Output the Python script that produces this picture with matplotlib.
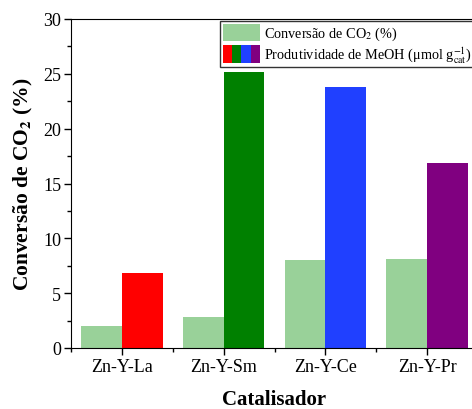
import matplotlib.pyplot as plt
from matplotlib.patches import Patch
from matplotlib.legend_handler import HandlerTuple
from matplotlib.ticker import AutoMinorLocator, MultipleLocator
import numpy as np

plt.rcParams['font.family'] = ['Liberation Serif', 'DejaVu Serif']
plt.rcParams['mathtext.fontset'] = 'stix'

catalysts = ['Zn-Y-La', 'Zn-Y-Sm', 'Zn-Y-Ce', 'Zn-Y-Pr']
conversion = [2.0, 2.8, 8.0, 8.1]
productivity = [6.8, 25.2, 23.8, 16.9]
prod_colors = ['#ff0000', '#008000', '#2040ff', '#800080']
conv_color = '#99d199'

fig = plt.figure(figsize=(4.72, 4.10), dpi=100)
# axes runs past the right edge, as in the cropped original
ax = fig.add_axes([71/472, 61/410, 407/472, 329/410])

x = np.arange(len(catalysts))
w = 0.4
ax.bar(x - w/2, conversion, width=w, color=conv_color)
ax.bar(x + w/2, productivity, width=w, color=prod_colors)

ax.set_xlim(-0.5, 3.5)
ax.set_ylim(0, 30)
ax.set_xticks(x)
ax.set_xticklabels(catalysts)
ax.xaxis.set_minor_locator(MultipleLocator(0.5))
ax.yaxis.set_major_locator(MultipleLocator(5))
ax.yaxis.set_minor_locator(AutoMinorLocator(2))
ax.tick_params(axis='both', which='major', direction='out', length=5, width=1,
               labelsize=13, pad=2)
ax.tick_params(axis='both', which='minor', direction='out', length=3, width=1)

ax.set_xlabel('Catalisador', fontsize=15, fontweight='bold', labelpad=10)
ax.set_ylabel('Conversão de CO$_\\mathbf{2}$ (%)', fontsize=15.5, fontweight='bold', labelpad=6)

h_conv = Patch(facecolor=conv_color)
h_prod = tuple(Patch(facecolor=c) for c in prod_colors)
leg = ax.legend([h_conv, h_prod],
                ['Conversão de CO$_2$ (%)',
                 'Produtividade de MeOH (μmol g$_{\\mathrm{cat}}^{-1}$)'],
                handler_map={tuple: HandlerTuple(ndivide=None, pad=0)},
                loc='upper left', bbox_to_anchor=(149/407, 0.994),
                fontsize=10.3, frameon=True, fancybox=False, edgecolor='black',
                borderpad=0.2, handlelength=2.6, handleheight=1.5,
                handletextpad=0.3, labelspacing=0.15, borderaxespad=0)
leg.get_frame().set_linewidth(1)

fig.savefig('out.png', dpi=100)
